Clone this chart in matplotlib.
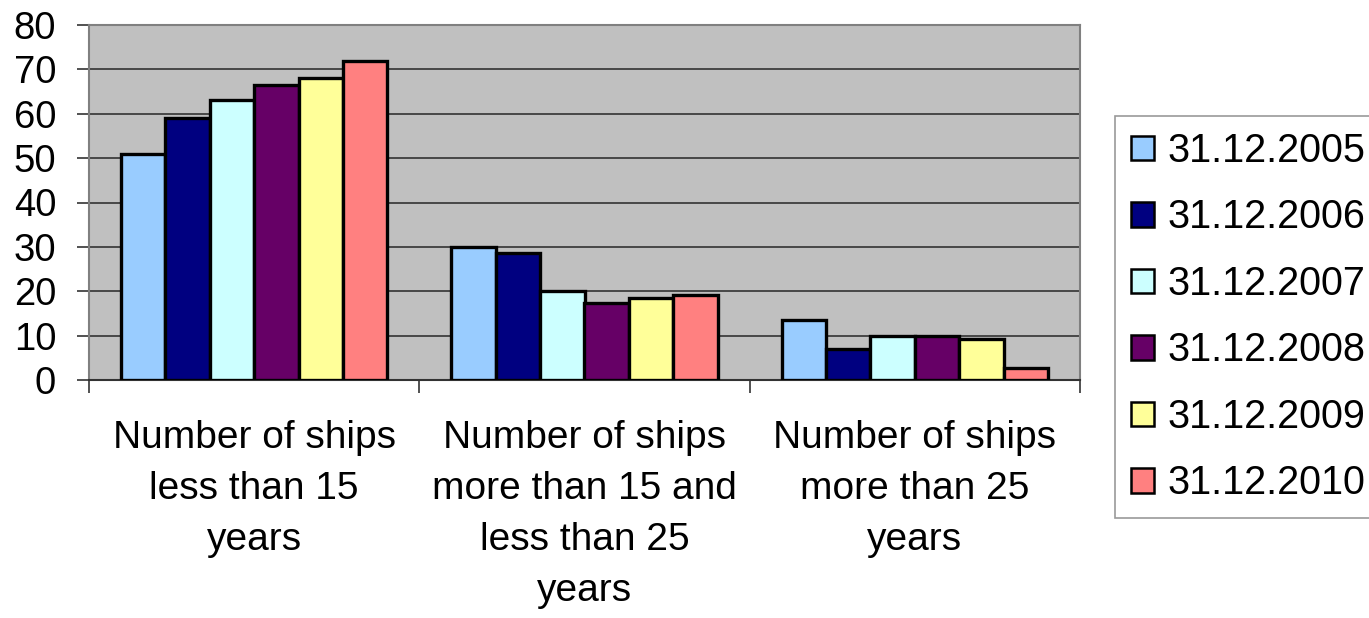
import numpy as np
import matplotlib.pyplot as plt

plt.rcParams['font.family'] = ['Liberation Sans', 'DejaVu Sans']

categories = [
    "Number of ships\nless than 15\nyears",
    "Number of ships\nmore than 15 and\nless than 25\nyears",
    "Number of ships\nmore than 25\nyears",
]
years = ["31.12.2005", "31.12.2006", "31.12.2007",
         "31.12.2008", "31.12.2009", "31.12.2010"]

ships_2005 = [51, 30, 13.5]
ships_2006 = [59, 28.7, 7]
ships_2007 = [63, 20, 10]
ships_2008 = [66.5, 17.4, 10]
ships_2009 = [68, 18.5, 9.2]
ships_2010 = [72, 19.2, 2.8]

series = [ships_2005, ships_2006, ships_2007, ships_2008, ships_2009, ships_2010]
colors = ['#99CCFF', '#000080', '#CCFFFF', '#660066', '#FFFF99', '#FF8080']

fig = plt.figure(figsize=(13.69, 6.18), dpi=100)
ax = fig.add_axes([89 / 1369, 238 / 618, 991 / 1369, 355 / 618])
ax.set_facecolor('#C0C0C0')

x = np.arange(len(categories))
n = len(series)
group_w = 0.806
bar_w = group_w / n

for i, (vals, col, lab) in enumerate(zip(series, colors, years)):
    offs = -group_w / 2 + bar_w * (i + 0.5)
    ax.bar(x + offs, vals, width=bar_w, color=col, edgecolor='black',
           linewidth=2.4, label=lab, zorder=3)

ax.set_xlim(-0.5, len(categories) - 0.5)
ax.set_ylim(0, 80)
ax.set_yticks(range(0, 81, 10))
ax.yaxis.grid(True, color='#333333', linewidth=1.2, zorder=1)
ax.tick_params(axis='y', labelsize=27.5, length=8.6, width=1.2, color='#333333', pad=15)

# category labels sit between the boundary ticks
ax.set_xticks(x)
ax.set_xticklabels(categories, fontsize=28, linespacing=1.53)
ax.tick_params(axis='x', length=0, pad=29)
ax.set_xticks(np.arange(-0.5, len(categories), 1.0), minor=True)
ax.tick_params(axis='x', which='minor', length=9, width=1.2, color='#333333')

for s in ['left', 'right', 'top']:
    ax.spines[s].set_color('#808080')
    ax.spines[s].set_linewidth(1.5)
ax.spines['bottom'].set_color('#333333')
ax.spines['bottom'].set_linewidth(1.5)

leg = fig.legend(loc='upper left', bbox_to_anchor=(1115 / 1369, 1 - 116 / 618),
                 fontsize=28.5, frameon=True, fancybox=False, edgecolor='#808080',
                 handlelength=0.58, handleheight=0.58, handletextpad=0.35,
                 labelspacing=0.72, borderpad=0.4, borderaxespad=0)
leg.get_frame().set_linewidth(1.2)
for h in leg.legend_handles:
    h.set_linewidth(1.8)

fig.savefig('out.png', dpi=100)
